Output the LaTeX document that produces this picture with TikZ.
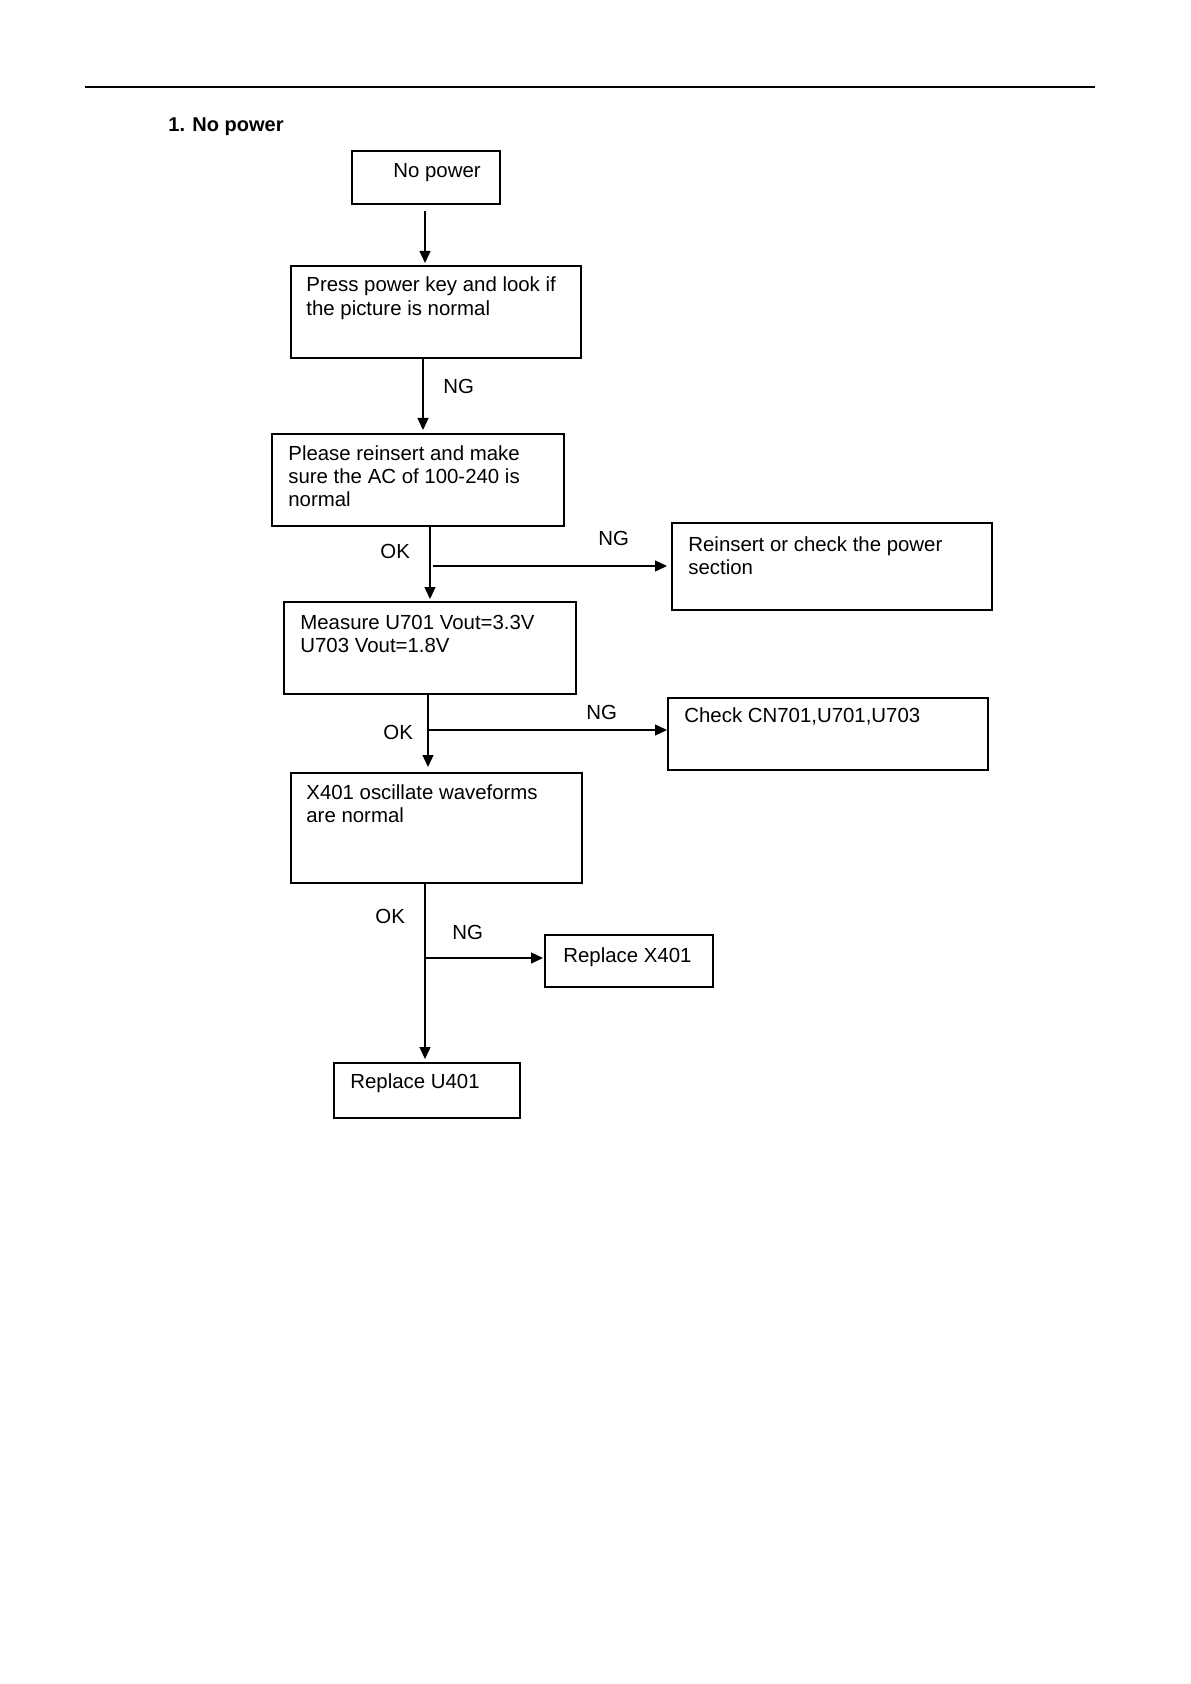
\documentclass[tikz,border=0pt]{standalone}
\usepackage{fontspec}
\setmainfont{Liberation Sans}
\usetikzlibrary{arrows.meta}
\def\PX{0.5pt}
\newcommand\mlines[1]{\vtop{\halign{##\hfil\cr#1\crcr}}}
\begin{document}
\begin{tikzpicture}[x=0.5pt,y=-0.5pt,
  box/.style={draw, line width=1pt, inner sep=0pt, anchor=north west},
  txt/.style={anchor=base west, inner sep=0pt, font=\fontsize{10.2}{11.7}\selectfont},
  lbl/.style={anchor=base west, inner sep=0pt, font=\fontsize{10.2}{12}\selectfont},
  arr/.style={line width=0.65pt, -{Triangle[length=6pt,width=5.5pt]}}]
\useasboundingbox (0,0) rectangle (1190,1684);
% header rule and title
\draw[line width=0.9pt] (85,87) -- (1095,87);
\node[anchor=base west, inner sep=0pt, font=\bfseries\fontsize{10}{12}\selectfont] (title) at (168,132) {1. No power};
% boxes
\node[box, minimum width=148*\PX, minimum height=53*\PX] (n1) at (351,150) {};
\node[box, minimum width=290*\PX, minimum height=92*\PX] (n2) at (290,265) {};
\node[box, minimum width=292*\PX, minimum height=92*\PX] (n3) at (271,433) {};
\node[box, minimum width=320*\PX, minimum height=87*\PX] (n4) at (671,522) {};
\node[box, minimum width=292*\PX, minimum height=92*\PX] (n5) at (283,601) {};
\node[box, minimum width=320*\PX, minimum height=72*\PX] (n6) at (667,697) {};
\node[box, minimum width=291*\PX, minimum height=110*\PX] (n7) at (290,772) {};
\node[box, minimum width=168*\PX, minimum height=52*\PX] (n8) at (544,934) {};
\node[box, minimum width=186*\PX, minimum height=55*\PX] (n9) at (333,1062) {};
% box texts
\node[txt] (t1) at (393,178) {No power};
\node[txt] (t2) at (306,292) {\mlines{Press power key and look if\cr the picture is normal}};
\node[txt] (t3) at (288,460) {\mlines{Please reinsert and make\cr sure the AC of 100-240 is\cr normal}};
\node[txt] (t4) at (688,551) {\mlines{Reinsert or check the power\cr section}};
\node[txt] (t5) at (300,629) {\mlines{Measure U701 Vout=3.3V\cr U703 Vout=1.8V}};
\node[txt] (t6) at (684,722) {Check CN701,U701,U703};
\node[txt] (t7) at (306,799) {\mlines{X401 oscillate waveforms\cr are normal}};
\node[txt] (t8) at (563,962) {Replace X401};
\node[txt] (t9) at (350,1088) {Replace U401};
% columns of the vertical connectors
\coordinate (c1) at (425,0);
\coordinate (c2) at (423,0);
\coordinate (c3) at (430,0);
\coordinate (c4) at (428,0);
\coordinate (c5) at (425,0);
% vertical connectors
\draw[arr, shorten <=3pt, shorten >=1pt] (c1 |- n1.south) -- (c1 |- n2.north);
\draw[arr, shorten >=1.5pt] (c2 |- n2.south) -- (c2 |- n3.north);
\draw[arr, shorten >=1pt] (c3 |- n3.south) -- (c3 |- n5.north);
\draw[arr, shorten >=2.5pt] (c4 |- n5.south) -- (c4 |- n7.north);
\draw[arr, shorten >=1.5pt] (c5 |- n7.south) -- (c5 |- n9.north);
% NG branches
\coordinate (b1) at (433,566);
\coordinate (b2) at (428,730);
\coordinate (b3) at (425,958);
\draw[arr, shorten >=2pt] (b1) -- (b1 -| n4.west);
\draw[arr] (b2) -- (b2 -| n6.west);
\draw[arr, shorten >=0.5pt] (b3) -- (b3 -| n8.west);
% labels
\node[lbl] (ng1) at (443,394) {NG};
\node[lbl] (ok1) at (380,558) {OK};
\node[lbl] (ng2) at (598,545) {NG};
\node[lbl] (ok2) at (383,739) {OK};
\node[lbl] (ng3) at (586,719) {NG};
\node[lbl] (ok3) at (375,923) {OK};
\node[lbl] (ng4) at (452,939) {NG};
\end{tikzpicture}
\end{document}
